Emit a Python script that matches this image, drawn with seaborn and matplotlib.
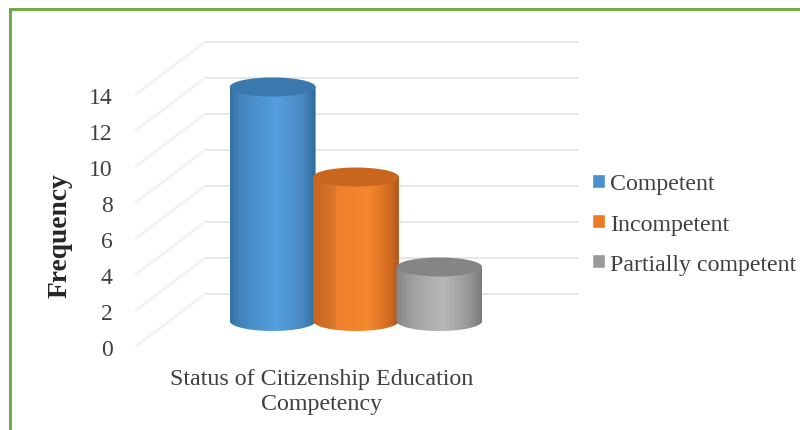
"""Cylinder style bar chart of citizenship education competency, drawn with seaborn."""

# ========= Imports =========
import numpy as np
import pandas as pd
import seaborn as sns
import matplotlib.pyplot as plt
from matplotlib.colors import LinearSegmentedColormap
from matplotlib.patches import Ellipse, Rectangle
from matplotlib.path import Path
from matplotlib.transforms import ScaledTranslation

# ========= Data =========
category = ["Status of Citizenship Education\nCompetency"]
series = ["Competent", "Incompetent", "Partially competent"]
values = [13, 8, 3]
y_ticks = [0, 2, 4, 6, 8, 10, 12, 14]

# ========= Styles =========
legend_colors = ["#4a90d0", "#ee7a26", "#9a9a9a"]
top_colors = ["#3b78ad", "#c9651c", "#858585"]
body_stops = [
    [(0, "#33719f"), (0.12, "#4285bd"), (0.55, "#55a0e0"), (0.85, "#4a88c0"), (1, "#2f6a9a")],
    [(0, "#c8641f"), (0.25, "#d9772c"), (0.27, "#ee802c"), (0.65, "#f5882e"), (0.9, "#d06a20"), (1, "#b0561b")],
    [(0, "#858585"), (0.2, "#a2a2a2"), (0.55, "#b8b8b8"), (0.85, "#989898"), (1, "#7a7a7a")],
]
GRID = "#dfdfdf"
DIAG = "#f4f4f4"
TEXT = "#404040"
W, H = 800, 431
PX_UNIT = 18.0       # pixels per y unit
PX_X = 312.5         # pixels per x unit
ELL_H = 20 / PX_UNIT # ellipse height in y units
BACK = 1.5           # back wall sits this many y units higher
FRONT = 26 / PX_UNIT # front plane sits this many y units lower


# ========= Helpers =========
def cylinder_path(x0, x1, top):
    cx, rx = (x0 + x1) / 2, (x1 - x0) / 2
    t = np.linspace(np.pi, 2 * np.pi, 40)
    xs = np.r_[cx + rx * np.cos(t), x1, x0, x0]
    ys = np.r_[ELL_H / 2 * np.sin(t), top, top, 0]
    return Path(np.column_stack([xs, ys]))


def main():
    sns.set_style("white")
    plt.rcParams["font.family"] = ["Liberation Serif", "DejaVu Serif"]

    df = pd.DataFrame({
        "category": category * len(series),
        "series": series,
        "value": values,
    })

    fig = plt.figure(figsize=(W / 100, H / 100), dpi=100, facecolor="white")
    ax = fig.add_axes([135 / W, 1 - 348 / H, (578 - 135) / W, (348 - 30) / H])
    ax.patch.set_alpha(0)

    sns.barplot(
        data=df, x="category", y="value", hue="series", hue_order=series,
        palette=legend_colors, saturation=1, width=0.8, gap=0, ax=ax, zorder=3,
    )

    xlim = ((135 - 356) / PX_X, (578 - 356) / PX_X)
    ylim = (-FRONT, (322 - 30) / PX_UNIT)

    # walls: horizontal lines at the back, diagonals running to the front plane
    back_x = (205 - 356) / PX_X
    for v in y_ticks:
        ax.plot([back_x, xlim[1]], [v + BACK, v + BACK], color=GRID, lw=1.1, zorder=1)
        ax.plot([xlim[0], back_x], [v - FRONT, v + BACK], color=DIAG, lw=2.5, zorder=1)

    # cylinders on top of the seaborn bars
    for i, bar in enumerate(ax.patches[:len(series)]):
        x0, x1 = bar.get_x(), bar.get_x() + bar.get_width()
        pad = (x1 - x0) * 0.015
        x0, x1 = x0 - pad, x1 + pad
        top = bar.get_height()
        z = 4 + i
        cmap = LinearSegmentedColormap.from_list(f"body{i}", body_stops[i])
        im = ax.imshow(
            np.linspace(0, 1, 200).reshape(1, -1), cmap=cmap, aspect="auto",
            extent=(x0, x1, -ELL_H, top), zorder=z,
        )
        im.set_clip_path(cylinder_path(x0, x1, top), transform=ax.transData)
        ax.add_patch(Ellipse(((x0 + x1) / 2, top), x1 - x0, ELL_H * 0.95,
                             facecolor=top_colors[i], edgecolor="none", zorder=z))

    ax.set_xlim(*xlim)
    ax.set_ylim(*ylim)

    # axes text
    ax.set_yticks(y_ticks)
    ax.set_yticklabels([str(v) for v in y_ticks], fontsize=17, color=TEXT)
    ax.tick_params(axis="y", length=0, pad=16)
    ax.tick_params(axis="x", length=0, pad=15)
    ax.set_xticks([0])
    ax.set_xticklabels(category, fontsize=17.3, color=TEXT, linespacing=1.27)
    ax.set_xlabel("")
    ax.set_ylabel("")
    for lab in ax.get_yticklabels():
        lab.set_transform(lab.get_transform() + ScaledTranslation(0, -26 / 100, fig.dpi_scale_trans))
    for lab in ax.get_xticklabels():
        lab.set_transform(lab.get_transform() + ScaledTranslation(-34 / 100, 0, fig.dpi_scale_trans))
    sns.despine(ax=ax, left=True, bottom=True)

    fig.text(60 / W, 1 - 236 / H, "Frequency", rotation=90, fontsize=19.8,
             fontweight="bold", color="#262626", ha="center", va="center")

    handles = ax.get_legend().legend_handles
    ax.legend(
        handles, series, frameon=False, fontsize=17.2, loc="center left",
        bbox_to_anchor=(592 / W, 1 - 225 / H), bbox_transform=fig.transFigure,
        handlelength=0.55, handleheight=0.55, handletextpad=0.2, labelspacing=0.8,
        borderpad=0, borderaxespad=0, labelcolor=TEXT,
    )

    # green frame on the top and left edges
    fig.add_artist(Rectangle((9 / W, 0), 3 / W, 1 - 9 / H, transform=fig.transFigure,
                             facecolor="#70ad47", edgecolor="none"))
    fig.add_artist(Rectangle((9 / W, 1 - 12 / H), 1 - 9 / W, 3 / H, transform=fig.transFigure,
                             facecolor="#70ad47", edgecolor="none"))

    fig.savefig("out.png", dpi=100)
    plt.close(fig)


if __name__ == "__main__":
    main()
